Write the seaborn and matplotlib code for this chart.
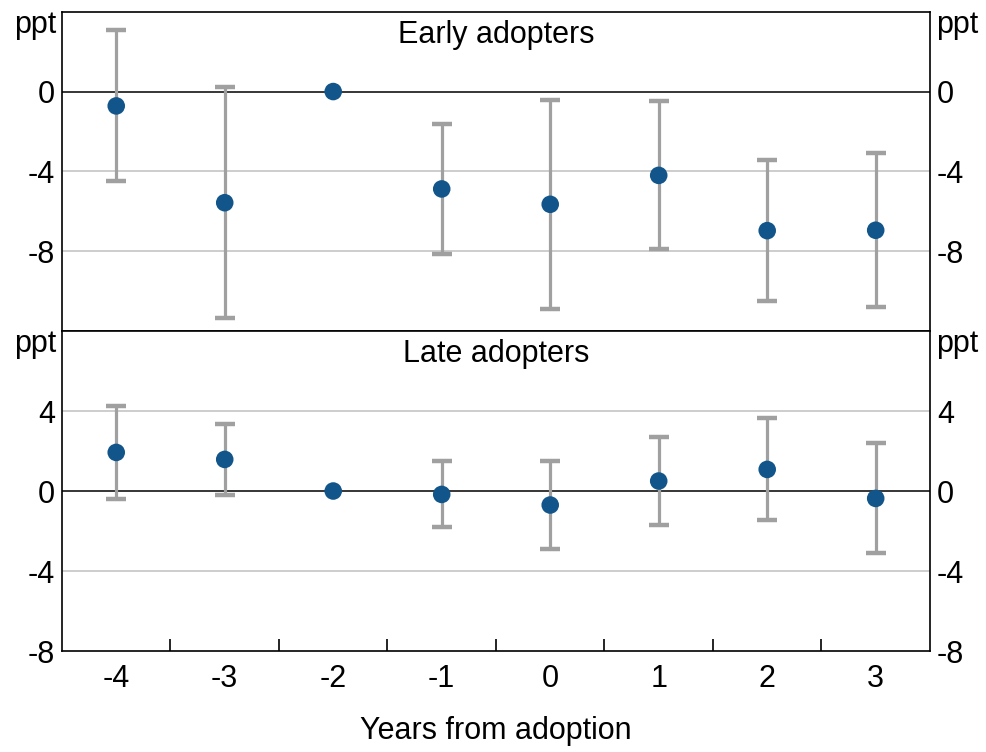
import matplotlib
matplotlib.use("Agg")
import matplotlib.pyplot as plt
import seaborn as sns
import numpy as np
import pandas as pd

years = [-4, -3, -2, -1, 0, 1, 2, 3]

# Early adopters: point estimate and confidence interval (ppt)
early_est = [-0.72, -5.57, 0.0, -4.88, -5.65, -4.2, -6.97, -6.95]
early_lo = [-4.5, -11.37, np.nan, -8.13, -10.88, -7.9, -10.5, -10.78]
early_hi = [3.1, 0.22, np.nan, -1.62, -0.42, -0.45, -3.42, -3.08]

# Late adopters
late_est = [1.93, 1.58, 0.0, -0.17, -0.7, 0.5, 1.08, -0.37]
late_lo = [-0.42, -0.22, np.nan, -1.8, -2.88, -1.68, -1.47, -3.12]
late_hi = [4.27, 3.37, np.nan, 1.48, 1.48, 2.7, 3.63, 2.42]

panel_titles = ["Early adopters", "Late adopters"]
early_yticks = [0, -4, -8]
late_yticks = [4, 0, -4, -8]
xlabel = "Years from adoption"

sns.set_style("white")
plt.rcParams['font.family'] = ['Liberation Sans', 'DejaVu Sans']
plt.rcParams['text.color'] = 'black'
plt.rcParams['xtick.color'] = 'black'
plt.rcParams['ytick.color'] = 'black'
plt.rcParams['axes.labelcolor'] = 'black'

FS = 22
DOT = "#12558a"
BAR = "#a0a0a0"
GRID = "#c0c0c0"

fig = plt.figure(figsize=(9.87, 7.52), dpi=100)
ax_top = fig.add_axes([0.0628, 0.5598, 0.8794, 0.4246])
ax_bot = fig.add_axes([0.0628, 0.1343, 0.8794, 0.4255])


def draw_panel(ax, est, lo, hi, title, yticks, ylim):
    df = pd.DataFrame({"year": years, "est": est, "lo": lo, "hi": hi})
    for y in yticks:
        if y == 0:
            ax.axhline(0, color="black", lw=1.1, zorder=1)
        elif ylim[0] < y < ylim[1]:
            ax.axhline(y, color=GRID, lw=1.1, zorder=1)
    err = np.vstack([df["est"] - df["lo"], df["hi"] - df["est"]])
    ax.errorbar(df["year"], df["est"], yerr=err, fmt="none", ecolor=BAR,
                elinewidth=2.3, capsize=7.5, capthick=3.2, zorder=2)
    sns.scatterplot(data=df, x="year", y="est", ax=ax, color=DOT, s=160,
                    edgecolor="none", zorder=3, legend=False)
    ax.set_xlim(-4.5, 3.5)
    ax.set_ylim(*ylim)
    ax.set_yticks(yticks)
    ax.set_yticklabels([str(t) for t in yticks])
    ax.tick_params(axis="y", length=0, labelsize=FS, labelright=True,
                   right=False, pad=5)
    ax.set_xlabel("")
    ax.set_ylabel("")
    for sp in ax.spines.values():
        sp.set_color("black")
        sp.set_linewidth(1.2)
    ax.text(0.5, 0.902, title, transform=ax.transAxes, ha="center",
            va="baseline", fontsize=FS)
    ax.text(-0.007, 0.934, "ppt", transform=ax.transAxes, ha="right",
            va="baseline", fontsize=FS)
    ax.text(1.007, 0.934, "ppt", transform=ax.transAxes, ha="left",
            va="baseline", fontsize=FS)


draw_panel(ax_top, early_est, early_lo, early_hi, panel_titles[0],
           early_yticks, (-12, 4))
draw_panel(ax_bot, late_est, late_lo, late_hi, panel_titles[1],
           late_yticks, (-8, 8))

ax_top.set_xticks([])
ax_bot.set_xticks(years)
ax_bot.set_xticklabels([str(y) for y in years])
ax_bot.set_xticks(np.arange(-3.5, 3.0, 1.0), minor=True)
ax_bot.tick_params(axis="x", which="major", length=0, labelsize=FS, pad=9)
ax_bot.tick_params(axis="x", which="minor", direction="in", length=8.5,
                   width=1.2, color="black", bottom=True)
ax_bot.set_xlabel(xlabel, fontsize=FS, labelpad=16)

fig.savefig("out.png", dpi=100)
